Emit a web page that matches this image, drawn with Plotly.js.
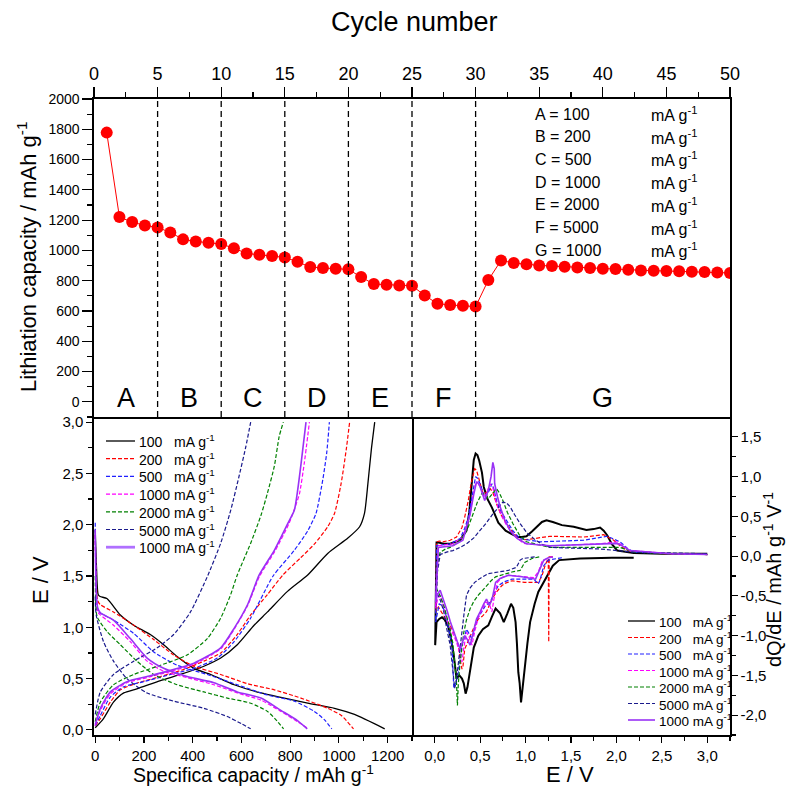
<!DOCTYPE html>
<html><head><meta charset="utf-8">
<script src="https://cdn.plot.ly/plotly-3.0.1.min.js"></script>
<style>html,body{margin:0;padding:0;background:#fff}#plot{width:786px;height:789px}</style>
</head><body><div id="plot"></div><script>
// ---------- top panel data ----------
const cycles = [1,2,3,4,5,6,7,8,9,10,11,12,13,14,15,16,17,18,19,20,21,22,23,24,25,26,27,28,29,30,31,32,33,34,35,36,37,38,39,40,41,42,43,44,45,46,47,48,49,50];
const lithCap = [1778,1220,1187,1165,1152,1119,1073,1059,1051,1042,1015,980,971,963,954,925,890,884,879,875,824,778,774,769,767,703,648,640,635,629,804,934,917,908,901,897,892,888,884,879,877,873,868,866,864,862,859,857,855,851];
const stepBounds = [5,10,15,20,25,30];
const stepLetters = ['A','B','C','D','E','F','G'];
const stepCenters = [2.5,7.5,12.5,17.5,22.5,27.5,40];
const stepRates = [100,200,500,1000,2000,5000,1000];

// ---------- voltage profiles: [capacity mAh/g, E V] ----------
const dis100 = [[0,1.95],[5,1.6],[12,1.32],[20,1.30],[48,1.28],[103,1.12],[158,1.02],[226,0.93],[281,0.83],[336,0.715],[405,0.60],[474,0.54],[570,0.44],[680,0.36],[776,0.31],[872,0.26],[982,0.21],[1064,0.15],[1188,0.01]];
const chg100 = [[0,0.02],[34,0.11],[75,0.27],[117,0.36],[171,0.40],[268,0.48],[350,0.54],[446,0.62],[515,0.70],[583,0.83],[652,1.02],[707,1.15],[789,1.35],[872,1.51],[954,1.72],[1037,1.87],[1085,1.98],[1105,2.11],[1119,2.40],[1133,2.73],[1147,3.0]];
const dis200 = [[0,1.9],[5,1.4],[10,1.26],[21,1.22],[75,1.15],[158,1.02],[240,0.88],[322,0.73],[405,0.62],[515,0.54],[625,0.45],[735,0.39],[844,0.31],[954,0.21],[1010,0.14],[1060,0.01]];
const chg200 = [[0,0.04],[21,0.11],[62,0.27],[103,0.39],[171,0.455],[268,0.52],[364,0.59],[446,0.67],[515,0.75],[583,0.93],[638,1.12],[707,1.32],[770,1.51],[844,1.68],[899,1.81],[954,1.98],[982,2.11],[1009,2.40],[1030,2.73],[1044,3.0]];
const dis500 = [[0,2.02],[4,1.4],[10,1.17],[21,1.14],[75,1.07],[158,0.94],[240,0.76],[336,0.63],[460,0.54],[583,0.44],[707,0.34],[817,0.28],[899,0.18],[940,0.10],[971,0.01]];
const chg500 = [[0,0.04],[21,0.14],[62,0.32],[117,0.42],[199,0.47],[309,0.54],[405,0.60],[501,0.70],[570,0.86],[638,1.09],[730,1.50],[817,1.75],[872,1.94],[906,2.11],[934,2.44],[950,2.70],[961,3.0]];
const dis1000 = [[0,1.9],[4,1.3],[10,1.15],[21,1.12],[75,1.02],[144,0.86],[213,0.67],[281,0.57],[377,0.51],[487,0.44],[583,0.36],[680,0.29],[762,0.18],[830,0.08],[875,0.01]];
const chg1000 = [[0,0.04],[21,0.19],[62,0.35],[130,0.46],[213,0.51],[309,0.57],[405,0.64],[515,0.79],[570,0.98],[625,1.21],[675,1.50],[737,1.74],[795,2.01],[820,2.17],[838,2.30],[858,2.60],[879,3.0]];
const dis2000 = [[0,1.5],[4,1.15],[10,1.09],[48,0.96],[103,0.83],[171,0.67],[240,0.54],[336,0.44],[446,0.37],[542,0.31],[638,0.26],[707,0.18],[745,0.09],[773,0.01]];
const chg2000 = [[0,0.08],[21,0.27],[75,0.44],[158,0.54],[268,0.63],[377,0.73],[460,0.89],[515,1.09],[556,1.32],[583,1.51],[638,1.82],[680,2.09],[707,2.31],[735,2.57],[755,2.86],[772,3.0]];
const dis5000 = [[0,1.3],[4,1.12],[34,0.86],[75,0.67],[130,0.50],[213,0.36],[322,0.28],[446,0.21],[542,0.13],[600,0.06],[638,0.01]];
const chg5000 = [[0,0.15],[21,0.37],[75,0.54],[158,0.67],[254,0.80],[322,0.93],[391,1.15],[463,1.51],[515,1.82],[556,2.14],[590,2.47],[618,2.76],[638,3.0]];
const dis1000b = [[0,1.95],[4,1.35],[10,1.19],[21,1.14],[75,1.07],[144,0.89],[213,0.70],[281,0.60],[377,0.52],[487,0.46],[583,0.37],[680,0.31],[762,0.19],[830,0.09],[870,0.01]];
const chg1000b = [[0,0.05],[21,0.21],[62,0.37],[130,0.47],[213,0.52],[309,0.58],[405,0.65],[515,0.80],[570,0.99],[625,1.22],[673,1.51],[735,1.75],[790,2.01],[817,2.14],[831,2.34],[845,2.60],[865,3.0]];

// ---------- dQ/dE: [E V, dQ/dE] ----------
const dq100 = [[2.19,-0.02],[1.95,-0.02],[1.60,-0.03],[1.37,-0.05],[1.30,-0.12],[1.22,-0.28],[1.14,-0.45],[1.10,-0.60],[1.05,-0.83],[1.02,-1.10],[0.99,-1.46],[0.965,-1.75],[0.95,-1.84],[0.935,-1.60],[0.92,-1.46],[0.905,-1.1],[0.89,-0.83],[0.865,-0.65],[0.84,-0.60],[0.80,-0.72],[0.76,-0.83],[0.72,-0.72],[0.67,-0.66],[0.63,-0.76],[0.59,-0.87],[0.53,-0.92],[0.48,-1.0],[0.43,-1.15],[0.39,-1.46],[0.36,-1.65],[0.34,-1.73],[0.32,-1.60],[0.30,-1.54],[0.27,-1.50],[0.24,-1.54],[0.21,-1.25],[0.18,-1.05],[0.15,-0.89],[0.11,-0.80],[0.08,-0.77],[0.05,-0.79],[0.02,-0.83],[0.005,-1.12],
  [0.02,0.17],[0.04,0.17],[0.10,0.155],[0.17,0.155],[0.24,0.18],[0.28,0.20],[0.32,0.27],[0.35,0.32],[0.38,0.55],[0.40,0.79],[0.42,1.05],[0.43,1.21],[0.45,1.29],[0.47,1.27],[0.49,1.20],[0.52,1.05],[0.54,0.87],[0.58,0.72],[0.63,0.61],[0.70,0.42],[0.78,0.32],[0.85,0.28],[0.91,0.24],[0.96,0.24],[1.01,0.25],[1.07,0.31],[1.12,0.37],[1.18,0.43],[1.23,0.45],[1.30,0.43],[1.40,0.39],[1.53,0.37],[1.67,0.33],[1.75,0.34],[1.82,0.36],[1.86,0.32],[1.90,0.26],[1.95,0.15],[2.01,0.07],[2.19,0.04],[2.5,0.03],[3.0,0.03]];
const dq200 = [[1.30,-0.01],[1.26,-0.01],[1.255,-1.08],[1.25,-0.03],[1.22,-0.10],[1.18,-0.25],[1.14,-0.33],[1.08,-0.33],[0.99,-0.33],[0.92,-0.32],[0.85,-0.31],[0.78,-0.34],[0.74,-0.37],[0.68,-0.45],[0.63,-0.54],[0.60,-0.62],[0.57,-0.70],[0.52,-0.76],[0.48,-0.79],[0.43,-0.90],[0.39,-1.0],[0.35,-1.10],[0.33,-1.17],[0.31,-1.40],[0.30,-1.42],[0.28,-1.30],[0.26,-1.12],[0.21,-0.96],[0.16,-0.85],[0.11,-0.77],[0.07,-0.70],[0.04,-0.64],[0.01,-0.70],
  [0.02,0.18],[0.05,0.19],[0.09,0.18],[0.17,0.20],[0.24,0.24],[0.30,0.36],[0.33,0.49],[0.37,0.70],[0.40,0.91],[0.44,1.10],[0.46,1.08],[0.48,1.0],[0.53,0.79],[0.57,0.80],[0.61,0.85],[0.64,0.80],[0.68,0.66],[0.73,0.52],[0.79,0.41],[0.86,0.30],[0.94,0.20],[1.09,0.22],[1.27,0.25],[1.64,0.24],[1.86,0.27],[1.97,0.20],[2.05,0.12],[2.12,0.07],[2.56,0.03],[3.0,0.02]];
const dq500 = [[1.40,-0.02],[1.25,-0.05],[1.20,-0.12],[1.16,-0.30],[1.14,-0.35],[1.10,-0.30],[1.07,-0.29],[0.95,-0.29],[0.85,-0.29],[0.77,-0.32],[0.70,-0.37],[0.65,-0.48],[0.61,-0.58],[0.56,-0.62],[0.52,-0.70],[0.48,-0.77],[0.44,-0.90],[0.41,-1.04],[0.38,-0.98],[0.35,-0.92],[0.32,-1.05],[0.30,-1.12],[0.28,-1.30],[0.26,-1.46],[0.23,-1.60],[0.21,-1.66],[0.20,-1.40],[0.19,-1.12],[0.15,-0.90],[0.12,-0.72],[0.08,-0.62],[0.05,-0.60],[0.01,-0.83],
  [0.02,0.13],[0.08,0.14],[0.17,0.155],[0.28,0.22],[0.33,0.35],[0.37,0.49],[0.41,0.75],[0.45,1.0],[0.47,0.98],[0.50,0.91],[0.55,0.74],[0.59,0.80],[0.63,0.91],[0.65,0.85],[0.68,0.70],[0.73,0.56],[0.79,0.45],[0.86,0.32],[0.94,0.22],[1.16,0.18],[1.64,0.20],[1.90,0.25],[2.04,0.18],[2.12,0.10],[2.19,0.05],[2.6,0.03],[3.0,0.02]];
const dq1000 = [[1.30,-0.01],[1.25,-0.02],[1.18,-0.07],[1.14,-0.20],[1.09,-0.27],[0.96,-0.26],[0.81,-0.24],[0.74,-0.27],[0.69,-0.33],[0.65,-0.55],[0.63,-0.70],[0.60,-0.60],[0.56,-0.58],[0.52,-0.68],[0.48,-0.77],[0.44,-0.95],[0.41,-1.12],[0.38,-1.02],[0.35,-0.96],[0.32,-1.15],[0.30,-1.33],[0.27,-1.20],[0.24,-1.08],[0.19,-0.95],[0.14,-0.83],[0.10,-0.65],[0.06,-0.49],[0.03,-0.55],[0.01,-0.66],
  [0.04,0.13],[0.10,0.14],[0.20,0.155],[0.31,0.24],[0.35,0.38],[0.39,0.53],[0.42,0.75],[0.45,0.91],[0.47,0.93],[0.50,0.87],[0.55,0.74],[0.58,0.82],[0.61,0.91],[0.64,0.86],[0.68,0.66],[0.73,0.52],[0.79,0.39],[0.88,0.25],[0.98,0.16],[1.27,0.13],[1.82,0.155],[2.01,0.18],[2.08,0.12],[2.15,0.07],[2.6,0.03],[3.0,0.02]];
const dq2000 = [[1.15,-0.01],[1.07,-0.03],[0.99,-0.08],[0.94,-0.18],[0.85,-0.20],[0.75,-0.23],[0.67,-0.26],[0.62,-0.31],[0.57,-0.37],[0.52,-0.43],[0.48,-0.49],[0.43,-0.57],[0.39,-0.66],[0.35,-0.80],[0.32,-0.96],[0.30,-1.15],[0.28,-1.33],[0.26,-1.60],[0.25,-1.88],[0.24,-1.60],[0.22,-1.29],[0.20,-1.10],[0.17,-0.92],[0.13,-0.75],[0.10,-0.62],[0.06,-0.50],[0.02,-0.41],
  [0.03,-0.1],[0.06,0.05],[0.12,0.09],[0.17,0.11],[0.24,0.16],[0.31,0.24],[0.37,0.37],[0.42,0.53],[0.47,0.68],[0.52,0.79],[0.56,0.77],[0.59,0.72],[0.63,0.78],[0.68,0.85],[0.71,0.80],[0.75,0.70],[0.80,0.55],[0.86,0.41],[0.93,0.27],[1.01,0.18],[1.27,0.11],[1.82,0.11],[2.04,0.11],[2.12,0.08],[2.19,0.05],[2.6,0.03],[3.0,0.02]];
const dq5000 = [[1.10,-0.01],[1.03,-0.02],[0.97,-0.03],[0.94,-0.05],[0.90,-0.14],[0.81,-0.18],[0.70,-0.20],[0.59,-0.22],[0.50,-0.28],[0.44,-0.33],[0.39,-0.40],[0.35,-0.49],[0.32,-0.75],[0.30,-0.96],[0.28,-1.17],[0.26,-1.37],[0.24,-1.55],[0.22,-1.66],[0.21,-1.54],[0.19,-1.30],[0.17,-1.12],[0.13,-0.90],[0.10,-0.70],[0.06,-0.55],[0.02,-0.45],
  [0.03,-0.2],[0.06,0.02],[0.13,0.05],[0.20,0.07],[0.28,0.11],[0.35,0.155],[0.43,0.23],[0.50,0.32],[0.57,0.42],[0.64,0.53],[0.70,0.62],[0.75,0.68],[0.79,0.67],[0.83,0.62],[0.88,0.52],[0.94,0.41],[1.01,0.30],[1.09,0.22],[1.18,0.15],[1.27,0.11],[1.82,0.09],[2.19,0.05],[2.6,0.04],[3.0,0.03]];
const dq1000b = [[1.30,-0.01],[1.25,-0.02],[1.20,-0.05],[1.16,-0.16],[1.11,-0.29],[0.96,-0.26],[0.81,-0.24],[0.72,-0.28],[0.67,-0.33],[0.63,-0.55],[0.60,-0.62],[0.57,-0.54],[0.54,-0.60],[0.50,-0.70],[0.46,-0.79],[0.42,-0.98],[0.39,-1.12],[0.36,-1.05],[0.33,-1.0],[0.30,-1.10],[0.28,-1.17],[0.25,-1.08],[0.21,-0.96],[0.17,-0.82],[0.14,-0.70],[0.10,-0.55],[0.06,-0.43],[0.03,-0.48],[0.01,-0.58],
  [0.04,0.11],[0.10,0.12],[0.20,0.13],[0.31,0.20],[0.35,0.35],[0.39,0.53],[0.43,0.78],[0.46,0.93],[0.48,0.92],[0.50,0.87],[0.55,0.70],[0.59,0.83],[0.62,1.00],[0.64,1.18],[0.655,1.10],[0.66,0.91],[0.69,0.75],[0.72,0.62],[0.77,0.46],[0.83,0.32],[0.91,0.22],[1.01,0.155],[1.27,0.13],[1.82,0.15],[2.01,0.16],[2.08,0.12],[2.15,0.07],[2.6,0.03],[3.0,0.02]];

const legendLabels = ['100\u00a0\u00a0\u00a0mA g<sup>-1</sup>','200\u00a0\u00a0\u00a0mA g<sup>-1</sup>','500\u00a0\u00a0\u00a0mA g<sup>-1</sup>','1000 mA g<sup>-1</sup>','2000 mA g<sup>-1</sup>','5000 mA g<sup>-1</sup>','1000 mA g<sup>-1</sup>'];
const yTickVals3 = [-2,-1.5,-1,-0.5,0,0.5,1,1.5];
const yTickText3 = ['-2,0','-1,5','-1,0','-0,5','0,0','0,5','1,0','1,5'];

// ---------- styles ----------
const DASH = '4px,2px';
const styles = [
  {color:'#000000', dash:'solid', w:1.3, wq:2.0},
  {color:'#FF0000', dash:DASH, w:1.2, wq:1.2},
  {color:'#2020FF', dash:DASH, w:1.2, wq:1.2},
  {color:'#FF00FF', dash:DASH, w:1.2, wq:1.2},
  {color:'#008000', dash:DASH, w:1.2, wq:1.2},
  {color:'#1A1A8C', dash:DASH, w:1.2, wq:1.2},
  {color:'#9932F5', dash:'solid', w:1.6, wq:1.6}
];
const profiles = [[dis100,chg100],[dis200,chg200],[dis500,chg500],[dis1000,chg1000],[dis2000,chg2000],[dis5000,chg5000],[dis1000b,chg1000b]];
const dqSets = [dq100,dq200,dq500,dq1000,dq2000,dq5000,dq1000b];

const FONT = '"Liberation Sans", Arial, sans-serif';
const W = 786, H = 789;
const px = v => v / W, py = v => 1 - v / H;

const traces = [];
traces.push({x: cycles, y: lithCap, xaxis:'x', yaxis:'y', type:'scatter', mode:'lines+markers',
  line:{color:'#FF0000', width:1}, marker:{color:'#FF0000', size:12}, showlegend:false, hoverinfo:'x+y'});

profiles.forEach((pair, i) => {
  pair.forEach(arr => {
    traces.push({x: arr.map(p=>p[0]), y: arr.map(p=>p[1]), xaxis:'x2', yaxis:'y2', type:'scatter', mode:'lines',
      line:{color:styles[i].color, dash:styles[i].dash, width:styles[i].w, shape:'spline', smoothing:0.6}, showlegend:false});
  });
});
dqSets.forEach((arr, i) => {
  traces.push({x: arr.map(p=>p[0]), y: arr.map(p=>p[1]), xaxis:'x3', yaxis:'y3', type:'scatter', mode:'lines',
    line:{color:styles[i].color, dash:styles[i].dash, width:styles[i].wq}, showlegend:false});
});

const shapes = [];
const annotations = [];
stepBounds.forEach(b => shapes.push({type:'line', xref:'x', yref:'y', x0:b, x1:b, y0:-100, y1:2000,
  line:{color:'#000', width:1.3, dash:'6px,4px'}}));
stepLetters.forEach((L, i) => annotations.push({xref:'x', yref:'y', x:stepCenters[i], y:26, text:L, showarrow:false,
  xanchor:'center', yanchor:'middle', font:{family:FONT, size:27, color:'#000'}}));
stepLetters.forEach((L, i) => {
  const yy = py(114 + i*22.7);
  annotations.push({xref:'paper', yref:'paper', x:px(533), y:yy, text:L + ' = ' + stepRates[i], showarrow:false,
    xanchor:'left', yanchor:'middle', font:{family:FONT, size:16, color:'#000'}});
  annotations.push({xref:'paper', yref:'paper', x:px(649), y:yy, text:'mA g<sup>-1</sup>', showarrow:false,
    xanchor:'left', yanchor:'middle', font:{family:FONT, size:16, color:'#000'}});
});
// legends
legendLabels.forEach((lab, i) => {
  const s = styles[i];
  const y1 = py(441 + i*17.7);
  shapes.push({type:'line', xref:'paper', yref:'paper', x0:px(106), x1:px(135), y0:y1, y1:y1,
    line:{color:(i===6?'#B070FF':s.color), width:s.w + (i===6?1.2:0), dash:s.dash}});
  annotations.push({xref:'paper', yref:'paper', x:px(137), y:y1, text:lab, showarrow:false, xanchor:'left', yanchor:'middle',
    font:{family:FONT, size:14, color:'#000'}});
  const y2 = py(621 + i*16.5);
  shapes.push({type:'line', xref:'paper', yref:'paper', x0:px(628), x1:px(655), y0:y2, y1:y2,
    line:{color:s.color, width:s.w, dash:s.dash}});
  annotations.push({xref:'paper', yref:'paper', x:px(657), y:y2, text:lab, showarrow:false, xanchor:'left', yanchor:'middle',
    font:{family:FONT, size:13.5, color:'#000'}});
});
// axis titles
annotations.push({xref:'paper', yref:'paper', x:px(414), y:py(22), text:'Cycle number', showarrow:false,
  xanchor:'center', yanchor:'middle', font:{family:FONT, size:27, color:'#000'}});
annotations.push({xref:'paper', yref:'paper', x:px(27), y:py(257), text:'Lithiation capacity / mAh g<sup>-1</sup>', showarrow:false,
  textangle:-90, xanchor:'center', yanchor:'middle', font:{family:FONT, size:22, color:'#000'}});
annotations.push({xref:'paper', yref:'paper', x:px(40), y:py(580), text:'E / V', showarrow:false,
  textangle:-90, xanchor:'center', yanchor:'middle', font:{family:FONT, size:22, color:'#000'}});
annotations.push({xref:'paper', yref:'paper', x:px(253), y:py(774), text:'Specifica capacity / mAh g<sup>-1</sup>', showarrow:false,
  xanchor:'center', yanchor:'middle', font:{family:FONT, size:19.5, color:'#000'}});
annotations.push({xref:'paper', yref:'paper', x:px(570), y:py(774), text:'E / V', showarrow:false,
  xanchor:'center', yanchor:'middle', font:{family:FONT, size:22, color:'#000'}});
annotations.push({xref:'paper', yref:'paper', x:px(772), y:py(580), text:'dQ/dE / mAh g<sup>-1</sup> V<sup>-1</sup>', showarrow:false,
  textangle:-90, xanchor:'center', yanchor:'middle', font:{family:FONT, size:20, color:'#000'}});

const axBase = {showgrid:false, zeroline:false, showline:true, linecolor:'#000', linewidth:1.6, mirror:false,
  ticks:'outside', ticklen:6, tickwidth:1.2, tickcolor:'#000', tickfont:{family:FONT, size:15, color:'#000'}};
const minorT = (d) => ({dtick:d, ticklen:4, ticks:'outside', tickcolor:'#000', tickwidth:1.2});
const xd = [px(94), px(730)], xl = [px(94), px(412)], xr = [px(412), px(730)];
const yt = [py(417), py(99)], yb = [py(735), py(417)];

const layout = {
  width:W, height:H, margin:{l:0, r:0, t:0, b:0}, paper_bgcolor:'#fff', plot_bgcolor:'rgba(0,0,0,0)',
  separators:',.', showlegend:false, font:{family:FONT, color:'#000'},
  xaxis: Object.assign({}, axBase, {domain:xd, anchor:'y', side:'top', range:[0,50], tick0:0, dtick:5, mirror:true, ticklen:10,
    tickfont:{family:FONT, size:18, color:'#000'}, minor:Object.assign(minorT(2.5), {ticklen:5})}),
  yaxis: Object.assign({}, axBase, {domain:yt, anchor:'x', range:[-100,2000], tick0:0, dtick:200, mirror:true, ticklen:10,
    tickfont:{family:FONT, size:14, color:'#000'}, minor:Object.assign(minorT(100), {ticklen:5})}),
  xaxis2: Object.assign({}, axBase, {domain:xl, anchor:'y2', range:[-5,1300], tick0:0, dtick:200, minor:minorT(100)}),
  yaxis2: Object.assign({}, axBase, {domain:yb, anchor:'x2', range:[-0.05,3.05], tick0:0, dtick:0.5, tickformat:'.1f', mirror:true,
    minor:minorT(0.25)}),
  xaxis3: Object.assign({}, axBase, {domain:xr, anchor:'y3', range:[-0.25,3.25], tick0:0, dtick:0.5, tickformat:'.1f', minor:minorT(0.25)}),
  yaxis3: Object.assign({}, axBase, {domain:yb, anchor:'x3', side:'right', range:[-2.25,1.75], tickmode:'array',
    tickvals:yTickVals3, ticktext:yTickText3,
    minor:{tickmode:'array', tickvals:[-2.25,-1.75,-1.25,-0.75,-0.25,0.25,0.75,1.25], ticklen:4, ticks:'outside', tickcolor:'#000', tickwidth:1.2}}),
  shapes: shapes, annotations: annotations
};
Plotly.newPlot('plot', traces, layout, {staticPlot:true, displayModeBar:false});
</script></body></html>
